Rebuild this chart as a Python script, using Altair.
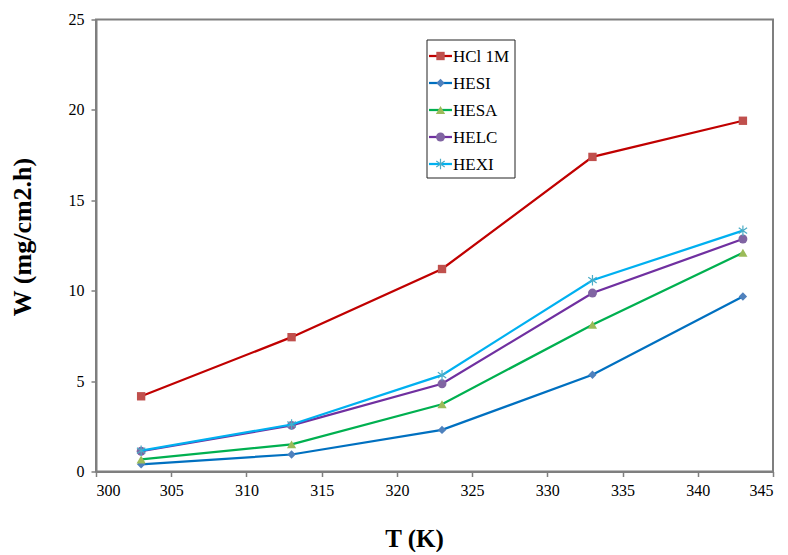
import altair as alt
import pandas as pd

# ---- data ----
temps = [303, 313, 323, 333, 343]
series_names = ["HCl 1M", "HESI", "HESA", "HELC", "HEXI"]
hcl = [4.16, 7.43, 11.2, 17.4, 19.4]
hesi = [0.4, 0.94, 2.3, 5.35, 9.68]
hesa = [0.67, 1.5, 3.72, 8.12, 12.1]
helc = [1.12, 2.55, 4.85, 9.87, 12.86]
hexi = [1.15, 2.6, 5.33, 10.58, 13.32]
series_values = [hcl, hesi, hesa, helc, hexi]

line_colors = ["#C00000", "#0070C0", "#00B050", "#7030A0", "#00B0F0"]
marker_colors = ["#C0504D", "#4F81BD", "#9BBB59", "#8064A2", "#4BACC6"]
ASTERISK = "M0,-1L0,1M-0.8,-0.55L0.8,0.55M-0.8,0.55L0.8,-0.55"
shapes = ["square", "diamond", "triangle-up", "circle", ASTERISK]
sizes = [70, 70, 85, 80, 110]

FONT = "Liberation Serif, DejaVu Serif, serif"

xscale = alt.Scale(domain=[300, 345], nice=False, zero=False)
yscale = alt.Scale(domain=[0, 25], nice=False)

layers = []
for i, name in enumerate(series_names):
    df = pd.DataFrame({"T": temps, "W": series_values[i], "series": name})
    x = alt.X("T:Q", scale=xscale,
              axis=alt.Axis(values=list(range(300, 346, 5)), title="T (K)",
                            titleX=318, titleAlign="center"))
    y = alt.Y("W:Q", scale=yscale,
              axis=alt.Axis(values=[0, 5, 10, 15, 20, 25], title="W (mg/cm2.h)",
                            titleY=217, titleAlign="center"))
    base = alt.Chart(df).encode(x=x, y=y)
    layers.append(base.mark_line(color=line_colors[i], strokeWidth=2.25))
    if shapes[i] == ASTERISK:
        pts = base.mark_point(shape=ASTERISK, filled=False, stroke=marker_colors[i],
                              strokeWidth=1.2, size=sizes[i], opacity=1)
    else:
        pts = base.mark_point(shape=shapes[i], filled=True, fill=marker_colors[i],
                              size=sizes[i], opacity=1)
    layers.append(pts)

# ---- legend (drawn manually) ----
box = alt.Chart(pd.DataFrame({"a": [0]})).mark_rect(
    fill="white", stroke="#222222", strokeWidth=1
).encode(x=alt.value(331), x2=alt.value(419), y=alt.value(20.5), y2=alt.value(158.5))
layers.append(box)

for i, name in enumerate(series_names):
    yy = 36.5 + 27.0 * i
    one = pd.DataFrame({"series": [name]})
    layers.append(alt.Chart(one).mark_rule(color=line_colors[i], strokeWidth=2.25).encode(
        x=alt.value(333), x2=alt.value(356), y=alt.value(yy)))
    if shapes[i] == ASTERISK:
        layers.append(alt.Chart(one).mark_point(shape=ASTERISK, filled=False,
                                                stroke=marker_colors[i], strokeWidth=1.2,
                                                size=sizes[i], opacity=1).encode(
            x=alt.value(344.5), y=alt.value(yy)))
    else:
        layers.append(alt.Chart(one).mark_point(shape=shapes[i], filled=True,
                                                fill=marker_colors[i], size=sizes[i],
                                                opacity=1).encode(
            x=alt.value(344.5), y=alt.value(yy)))
    layers.append(alt.Chart(one).mark_text(align="left", baseline="middle", font=FONT,
                                           fontSize=17, color="black").encode(
        x=alt.value(357), y=alt.value(yy + 1), text="series:N"))

chart = alt.layer(*layers).properties(
    width=677, height=452,
    autosize=alt.AutoSizeParams(type="none"),
    padding={"left": 88, "top": 11.5, "right": 7, "bottom": 80},
).configure(
    font=FONT
).configure_view(
    stroke="#7f7f7f", strokeWidth=2
).configure_axis(
    domainColor="#7f7f7f", domainWidth=2, tickColor="#7f7f7f", tickWidth=1.5,
    tickSize=5, grid=False, labelFont=FONT, labelFontSize=16, labelColor="black",
    titleFont=FONT, titleFontSize=25, titleFontWeight="bold", titleColor="black",
).configure_axisX(
    labelPadding=6, titlePadding=28
).configure_axisY(
    labelPadding=7, titlePadding=33, titleFontSize=26
)

chart.save("out.html", embed_options={"renderer": "svg", "actions": False})
